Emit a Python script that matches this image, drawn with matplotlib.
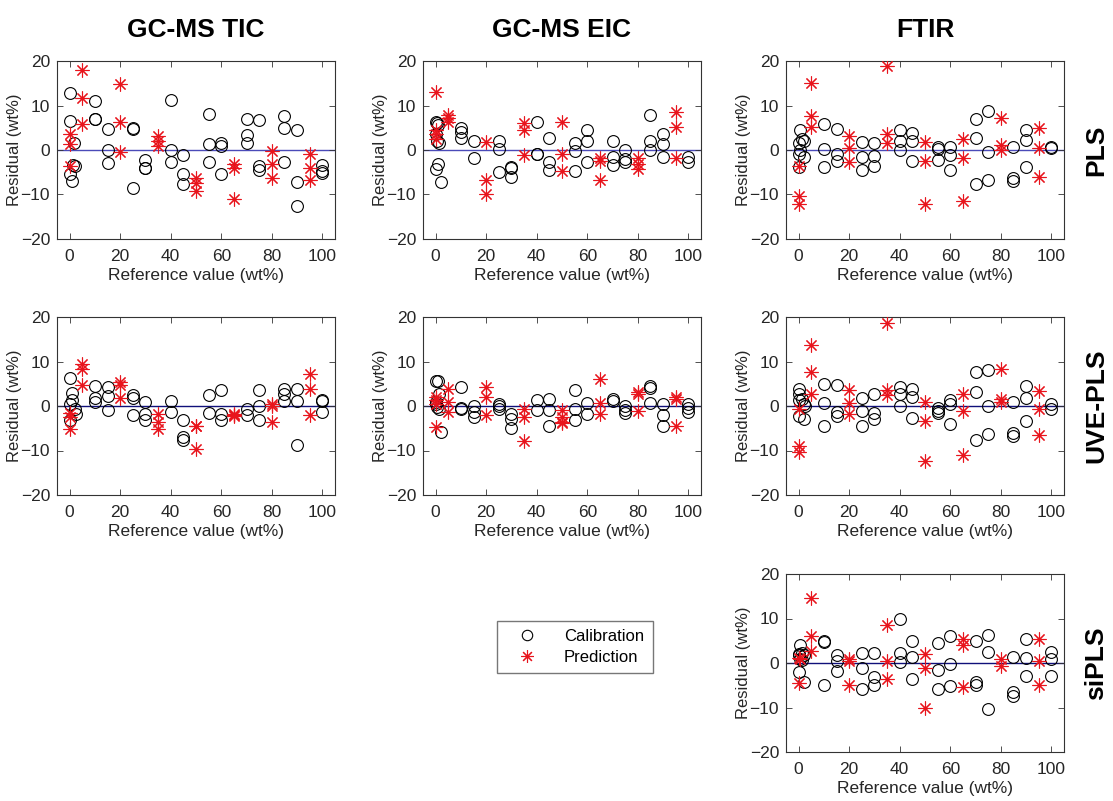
import matplotlib
matplotlib.use("Agg")
import matplotlib.pyplot as plt
from matplotlib.lines import Line2D

plt.rcParams['font.family'] = ['Liberation Sans', 'DejaVu Sans']

col_titles = ["GC-MS TIC", "GC-MS EIC", "FTIR"]
row_titles = ["PLS", "UVE-PLS", "siPLS"]
xticks = [0, 20, 40, 60, 80, 100]
yticks = [-20, -10, 0, 10, 20]

pred_x_std = [0, 0, 0, 5, 5, 5, 20, 20, 20, 35, 35, 35, 50, 50, 50, 65, 65, 65, 80, 80, 80, 95, 95, 95]

# GC-MS TIC, PLS
tic_pls_cal_x = [0, 0, 0, 0.8, 1.7, 1.5, 2, 10, 10, 10, 15, 15, 15, 25, 25, 25, 30, 30, 30, 40, 40, 40,
                 45, 45, 45, 55, 55, 55, 60, 60, 60, 70, 70, 70, 75, 75, 75, 85, 85, 85, 90, 90, 90, 100, 100, 100]
tic_pls_cal_y = [12.7, 6.5, -5.3, -7.0, 1.6, -3.4, -3.6, 11.0, 7.0, 6.9, 4.7, 0.0, -3.0, 5.0, 4.7, -8.6,
                 -2.3, -4.1, -4.0, 11.2, 0.1, -2.7, -1.1, -5.3, -7.6, 8.2, 1.3, -2.7, 1.6, 1.0, -5.5,
                 6.9, 3.3, 1.6, 6.8, -3.5, -4.4, 7.7, 5.0, -2.7, 4.5, -7.2, -12.6, -3.4, -4.7, -5.2]
tic_pls_pred_x = pred_x_std
tic_pls_pred_y = [3.5, 1.3, -3.6, 18.0, 11.7, 5.9, 14.8, 6.2, -0.4, 3.2, 2.0, 0.9, -6.2, -7.4, -9.2,
                  -3.2, -4.1, -11.0, -0.2, -3.2, -6.4, -0.8, -4.0, -6.8]

# GC-MS TIC, UVE-PLS
tic_uve_cal_x = [0, 0, 0, 0.8, 1, 2, 2.5, 10, 10, 10, 15, 15, 15, 25, 25, 25, 30, 30, 30, 40, 40,
                 45, 45, 45, 55, 55, 60, 60, 60, 70, 70, 75, 75, 75, 85, 85, 85, 90, 90, 90, 100, 100, 100]
tic_uve_cal_y = [6.2, 0.5, -3.2, 2.9, 1.3, -0.6, -1.7, 4.4, 1.9, 0.8, 4.3, 2.2, -0.8, 2.4, 1.9, -2.0,
                 1.0, -1.9, -3.1, 1.1, -1.4, -3.2, -7.0, -7.6, 2.4, -1.5, 3.5, -1.9, -3.1, -0.6, -2.1,
                 3.5, -0.1, -3.1, 3.9, 2.6, 1.1, 3.9, 1.1, -8.7, 1.4, 1.1, -1.4]
tic_uve_pred_x = pred_x_std
tic_uve_pred_y = [-1.6, -2.5, -5.1, 9.5, 8.4, 4.7, 5.4, 4.7, 1.7, -1.9, -3.6, -5.1, -4.4, -4.6, -9.6,
                  -1.9, -2.3, -2.0, 0.4, -0.1, -3.5, 7.3, 3.9, -2.1]

# GC-MS EIC, PLS
eic_pls_cal_x = [0, 0.5, 1, 0, 0.5, 1.5, 1, 0, 2, 10, 10, 10, 15, 15, 25, 25, 25, 30, 30, 30, 40, 40, 40,
                 45, 45, 45, 55, 55, 55, 60, 60, 60, 70, 70, 70, 75, 75, 75, 85, 85, 85, 90, 90, 90, 100, 100]
eic_pls_cal_y = [6.2, 6.0, 5.7, 3.5, 2.0, 1.5, -3.2, -4.3, -7.1, 5.0, 4.0, 2.6, 2.0, -1.9, 2.0, 0.3, -5.0,
                 -3.8, -4.1, -6.0, 6.3, -0.8, -1.0, 2.6, -2.8, -4.4, 1.5, -0.2, -4.7, 4.4, 2.0, -2.7,
                 2.0, -1.6, -3.3, 0.1, -2.1, -2.8, 7.8, 2.0, 0.0, 3.6, 1.3, -1.6, -1.6, -2.7]
eic_pls_pred_x = [0, 0, 0, 0, 5, 5, 5, 20, 20, 20, 35, 35, 35, 50, 50, 50, 65, 65, 65, 80, 80, 80, 95, 95, 95]
eic_pls_pred_y = [13.1, 4.6, 3.5, 2.4, 7.9, 7.2, 6.4, 1.9, -6.7, -9.9, 6.1, 4.4, -1.1, 6.4, -0.8, -4.7,
                  -1.9, -2.4, -6.7, -1.7, -3.2, -4.3, 8.5, 5.2, -1.9]

# GC-MS EIC, UVE-PLS
eic_uve_cal_x = [0, 1, 0, 0, 0.5, 1.5, 1.5, 2, 10, 10, 10, 15, 15, 15, 25, 25, 25, 30, 30, 30, 40, 40,
                 45, 45, 45, 55, 55, 55, 60, 60, 70, 70, 75, 75, 75, 85, 85, 85, 90, 90, 90, 100, 100, 100]
eic_uve_cal_y = [5.6, 5.6, 0.9, 0.5, -0.2, -0.7, 2.6, -5.8, 4.3, -0.4, -0.6, 0.0, -1.3, -2.4, 0.5, -0.1, -0.7,
                 -1.7, -3.0, -5.0, 1.3, -1.0, 1.6, -0.8, -4.5, 3.5, -0.6, -3.2, 0.7, -1.9, 1.6, 1.1,
                 -0.1, -1.0, -1.6, 4.4, 4.1, 0.7, 0.4, -2.1, -4.5, 0.4, -0.4, -1.3]
eic_uve_pred_x = [0, 0, 0, 0, 5, 5, 5, 20, 20, 20, 35, 35, 35, 50, 50, 50, 50, 65, 65, 65, 80, 80, 80, 95, 95, 95]
eic_uve_pred_y = [2.0, 1.3, 0.5, -4.7, 3.9, 0.9, -1.3, 4.3, 2.0, -2.1, -0.7, -2.4, -7.8, -1.0, -2.4, -3.6, -3.8,
                  6.1, 0.7, -1.9, 3.1, 2.7, -1.1, 2.0, 1.6, -4.5]

# FTIR, PLS
ftir_pls_cal_x = [0.7, 0, 1.3, 2, 0.5, 0, 2, 0, 10, 10, 10, 15, 15, 15, 25, 25, 25, 30, 30, 30, 40, 40, 40,
                  45, 45, 45, 55, 55, 55, 60, 60, 60, 70, 70, 70, 75, 75, 75, 85, 85, 85, 90, 90, 90, 100, 100]
ftir_pls_cal_y = [4.4, 1.6, 2.4, 2.1, 0.1, -1.0, -1.6, -3.9, 5.9, 0.3, -3.9, 4.8, -0.8, -2.4, 1.9, -1.6, -4.5,
                  1.6, -1.4, -3.6, 4.4, 2.1, 0.1, 3.9, 2.0, -2.4, 0.7, 0.3, -2.3, 0.7, -1.1, -4.5,
                  7.0, 2.6, -7.6, 8.7, -0.4, -6.7, 0.7, -6.3, -7.0, 4.4, 2.2, -3.9, 0.7, 0.4]
ftir_pls_pred_x = pred_x_std
ftir_pls_pred_y = [-3.6, -10.4, -12.2, 15.0, 7.6, 5.1, 3.1, 0.5, -2.7, 18.9, 3.6, 1.6, 1.9, -2.4, -12.2,
                   2.4, -1.9, -11.5, 7.2, 1.1, 0.1, 5.0, 0.4, -6.0]

# FTIR, UVE-PLS
ftir_uve_cal_x = [0, 0, 0.3, 1.3, 2, 2.6, 0, 2, 10, 10, 10, 15, 15, 15, 25, 25, 25, 30, 30, 30, 40, 40, 40,
                  45, 45, 45, 55, 55, 55, 60, 60, 60, 70, 70, 70, 75, 75, 75, 85, 85, 85, 90, 90, 90, 100, 100]
ftir_uve_cal_y = [3.9, 2.6, 1.3, 1.6, 0.4, 0.0, -2.2, -3.0, 5.0, 0.7, -4.4, 4.8, -1.3, -2.2, 1.7, -1.1, -4.4,
                  2.6, -1.6, -3.0, 4.3, 2.6, 0.0, 3.9, 2.1, -2.8, -0.5, -1.1, -1.6, 1.3, 0.4, -4.1,
                  7.6, 3.1, -7.7, 8.2, 0.0, -6.2, 0.9, -6.0, -6.7, 4.5, 1.9, -3.4, 0.4, -0.7]
ftir_uve_pred_x = pred_x_std
ftir_uve_pred_y = [-0.7, -9.0, -10.4, 13.7, 7.6, 2.6, 3.7, 0.7, -1.9, 18.6, 3.7, 2.4, 0.9, -3.4, -12.4,
                   2.8, -1.1, -11.1, 8.3, 1.5, 1.0, 3.3, -0.7, -6.5]

# FTIR, siPLS
ftir_si_cal_x = [0.7, 0, 0.3, 1.3, 2, 0.7, 1.3, 0, 2, 10, 10, 10, 15, 15, 15, 25, 25, 25, 30, 30, 30,
                 40, 40, 40, 45, 45, 45, 55, 55, 55, 60, 60, 60, 70, 70, 70, 75, 75, 75, 85, 85, 85,
                 90, 90, 90, 100, 100, 100]
ftir_si_cal_y = [4.0, 2.1, 1.9, 2.3, 1.9, 1.0, 0.6, -2.0, -4.3, 5.0, 4.7, -4.9, 1.7, 0.5, -1.7, 2.3, -1.1, -5.8,
                 2.3, -3.2, -4.9, 9.8, 2.3, 0.2, 5.0, 1.4, -3.5, 4.5, -1.5, -5.8, 6.1, -0.2, -5.2,
                 5.0, -4.3, -4.9, 6.2, 2.5, -10.3, 1.4, -6.5, -7.4, 5.3, 1.1, -2.9, 2.5, 0.8, -2.9]
ftir_si_pred_x = [0, 0.5, 0, 5, 5, 5, 20, 20, 20, 35, 35, 35, 50, 50, 50, 65, 65, 65, 80, 80, 95, 95, 95]
ftir_si_pred_y = [1.1, 0.8, -4.5, 14.7, 6.1, 2.6, 0.8, 0.5, -4.9, 8.5, 0.5, -3.7, 2.1, -1.1, -10.1,
                  5.5, 4.0, -5.3, 0.8, -0.7, 5.3, 0.4, -4.9]

panels = [
    (0, 0, tic_pls_cal_x, tic_pls_cal_y, tic_pls_pred_x, tic_pls_pred_y),
    (0, 1, eic_pls_cal_x, eic_pls_cal_y, eic_pls_pred_x, eic_pls_pred_y),
    (0, 2, ftir_pls_cal_x, ftir_pls_cal_y, ftir_pls_pred_x, ftir_pls_pred_y),
    (1, 0, tic_uve_cal_x, tic_uve_cal_y, tic_uve_pred_x, tic_uve_pred_y),
    (1, 1, eic_uve_cal_x, eic_uve_cal_y, eic_uve_pred_x, eic_uve_pred_y),
    (1, 2, ftir_uve_cal_x, ftir_uve_cal_y, ftir_uve_pred_x, ftir_uve_pred_y),
    (2, 2, ftir_si_cal_x, ftir_si_cal_y, ftir_si_pred_x, ftir_si_pred_y),
]

W, H = 1113, 801
fig = plt.figure(figsize=(W / 100, H / 100), dpi=100)

col_left = [57, 423, 786]
row_top = [61, 317, 574]
ax_w, ax_h = 278, 178
zero_colors = ['#4a4ab8', '#10107a', '#10107a']
ast = (8, 2, 0)
tick_color = '#262626'
red = '#e8141c'
circ_ms, ast_ms = 8.5, 10

axes = {}
for r, c, cx, cy, px, py in panels:
    ax = fig.add_axes([col_left[c] / W, 1 - (row_top[r] + ax_h) / H, ax_w / W, ax_h / H])
    axes[(r, c)] = ax
    ax.axhline(0, color=zero_colors[r], lw=1.0, zorder=1)
    ax.plot(cx, cy, linestyle='none', marker='o', mfc='none', mec='black', ms=circ_ms, mew=0.8, zorder=3)
    ax.plot(px, py, linestyle='none', marker=ast, mec=red, mfc=red, ms=ast_ms, mew=0.8, zorder=4)
    ax.set_xlim(-5, 105)
    ax.set_ylim(-20, 20)
    ax.set_xticks(xticks)
    ax.set_yticks(yticks)
    ax.tick_params(direction='in', top=True, right=True, length=4, width=0.6,
                   labelsize=12.5, colors=tick_color)
    ax.tick_params(axis='y', pad=5)
    ax.tick_params(axis='x', pad=7)
    ax.tick_params(axis='both', color='#333333')
    for s in ax.spines.values():
        s.set_linewidth(0.8)
        s.set_color('#333333')
    ax.set_xlabel("Reference value (wt%)", fontsize=12.5, color=tick_color, labelpad=3)
    ax.set_ylabel("Residual (wt%)", fontsize=12, color=tick_color)
    ax.yaxis.set_label_coords(-0.127, 0.5)

# column titles
for c, t in enumerate(col_titles):
    fig.text((col_left[c] + ax_w / 2) / W, 1 - 30 / H, t, ha='center', va='center',
             fontsize=19, fontweight='bold')
# row titles
for r, t in enumerate(row_titles):
    fig.text(1096 / W, 1 - (row_top[r] + ax_h / 2) / H, t, ha='center', va='center',
             fontsize=19, fontweight='bold', rotation=90)

handles = [
    Line2D([], [], linestyle='none', marker='o', mfc='none', mec='black', ms=7.5, mew=0.8),
    Line2D([], [], linestyle='none', marker=ast, mec=red, ms=9, mew=0.8),
]
fig.legend(handles, ["Calibration", "Prediction"], loc='center',
           bbox_to_anchor=(575 / W, 1 - 647 / H), frameon=True, fancybox=False,
           edgecolor='#555555', fontsize=12, handletextpad=1.0, borderpad=0.5,
           labelspacing=0.35, handlelength=2.5)

fig.savefig("out.png", dpi=100)
